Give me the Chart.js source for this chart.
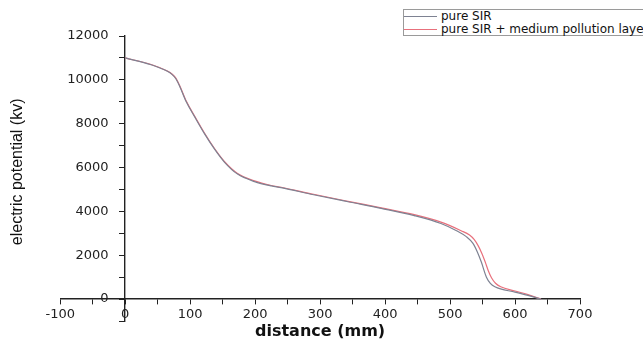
<!DOCTYPE html>
<html>
<head>
<meta charset="utf-8">
<script src="https://cdn.jsdelivr.net/npm/chart.js@4.4.0/dist/chart.umd.min.js"></script>
<style>
  html, body { margin: 0; padding: 0; background: #fff; overflow: hidden; }
  #wrap { position: relative; width: 643px; height: 344px; overflow: hidden; }
  #legend {
    position: absolute; left: 403px; top: 9px; width: 270px; height: 25px;
    border: 1px solid #9a9a9a; background: #fff;
    font-family: "DejaVu Sans", sans-serif; font-size: 12px; color: #111;
  }
  #legend div { position: absolute; left: 37px; white-space: nowrap; line-height: 12px; }
  #legend span { position: absolute; left: -37px; top: 6px; width: 33px; height: 1px; }
</style>
</head>
<body>
<div id="wrap">
  <canvas id="chart" width="643" height="344"></canvas>
  <div id="legend">
    <div style="top:0px"><span style="background:#7e8292"></span>pure SIR</div>
    <div style="top:13px"><span style="background:#e8707c"></span>pure SIR + medium pollution layer</div>
  </div>
</div>
<script>
// distance (mm) / electric potential (kv)
var pureDist = [0, 40, 65, 72, 78, 84, 94, 107, 122, 137, 153, 173, 199, 225, 240, 290, 343, 394, 445, 486, 510, 525, 535, 542, 548, 556, 562, 569, 600, 620, 640];
var pureVal  = [11000, 10690, 10390, 10250, 10050, 9700, 9000, 8310, 7545, 6860, 6240, 5700, 5360, 5160, 5080, 4760, 4440, 4140, 3810, 3450, 3120, 2850, 2550, 2150, 1700, 1000, 720, 560, 320, 170, 0];

var pollDist = [0, 40, 65, 72, 78, 84, 94, 107, 122, 137, 153, 173, 199, 225, 240, 290, 343, 394, 445, 486, 517, 530, 537, 543, 549, 554, 559, 564, 570, 578, 600, 620, 640];
var pollVal  = [11000, 10700, 10400, 10270, 10080, 9730, 9030, 8340, 7575, 6890, 6270, 5730, 5390, 5180, 5100, 4780, 4460, 4160, 3850, 3510, 3120, 2920, 2720, 2450, 2080, 1700, 1280, 960, 720, 560, 370, 200, 0];

var xTicks = [-100, 0, 100, 200, 300, 400, 500, 600, 700];
var yTicks = [0, 2000, 4000, 6000, 8000, 10000, 12000];

function toPoints(xs, ys) {
  var pts = [];
  for (var i = 0; i < xs.length; i++) {
    pts.push({ x: xs[i], y: ys[i] });
  }
  return pts;
}

var tickFont = "'DejaVu Sans', sans-serif";

var ctx = document.getElementById("chart");
var chart = new Chart(ctx, {
  type: "line",
  data: {
    datasets: [
      {
        label: "pure SIR",
        data: toPoints(pureDist, pureVal),
        borderColor: "#7e8292",
        borderWidth: 1.2,
        pointRadius: 0,
        fill: false,
        cubicInterpolationMode: "monotone"
      },
      {
        label: "pure SIR + medium pollution layer",
        data: toPoints(pollDist, pollVal),
        borderColor: "#e8707c",
        borderWidth: 1.2,
        pointRadius: 0,
        fill: false,
        cubicInterpolationMode: "monotone"
      }
    ]
  },
  options: {
    responsive: false,
    animation: false,
    layout: { padding: { left: 0, right: 63, top: 36, bottom: 23 } },
    plugins: { legend: { display: false }, tooltip: { enabled: false } },
    scales: {
      x: {
        type: "linear",
        position: { y: 0 },
        min: -100,
        max: 700,
        grid: { drawOnChartArea: false, tickLength: 5, color: "#222" },
        border: { color: "#222", width: 1.4 },
        ticks: {
          stepSize: 50,
          autoSkip: false,
          maxRotation: 0,
          padding: 3,
          color: "#222",
          font: { family: tickFont, size: 13 },
          callback: function (v) { return xTicks.indexOf(v) >= 0 ? String(v) : ""; }
        },
        title: {
          display: true,
          text: "distance (mm)",
          color: "#111",
          font: { family: tickFont, size: 16, weight: "bold" },
          padding: { top: -3 }
        }
      },
      y: {
        type: "linear",
        position: { x: 0 },
        min: -1000,
        max: 12000,
        grid: { drawOnChartArea: false, tickLength: 5, color: "#222" },
        border: { color: "#222", width: 1.4 },
        ticks: {
          stepSize: 1000,
          autoSkip: false,
          color: "#222",
          font: { family: tickFont, size: 13 },
          // labels are right-aligned on the axis line, trailing spaces push them clear of it
          callback: function (v) { return yTicks.indexOf(v) >= 0 ? v + "    " : ""; }
        }
      },
      yTitle: {
        type: "linear",
        position: "left",
        min: -1000,
        max: 12000,
        grid: { display: false },
        border: { display: false },
        ticks: { display: false },
        title: {
          display: true,
          // leading spaces nudge the rotated title up a little
          text: "   electric potential (kv)",
          color: "#111",
          font: { family: "'Liberation Sans', Arial, sans-serif", size: 16 },
          padding: { top: 8, bottom: 25 }
        }
      }
    }
  }
});
</script>
</body>
</html>
